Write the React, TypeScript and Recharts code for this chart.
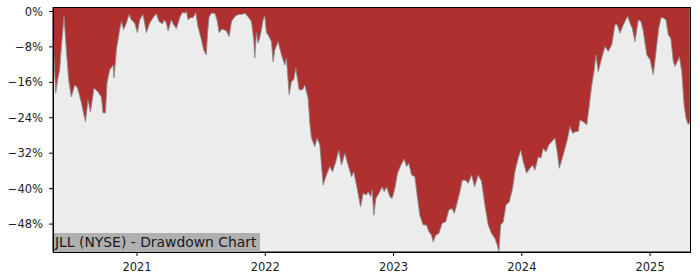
import React from 'react';
import { AreaChart, Area, XAxis, YAxis, CartesianGrid } from 'recharts';

// Decimal-year positions of the sampled points
const dates: number[] = [
  2020.346, 2020.366, 2020.381, 2020.397, 2020.410, 2020.431, 2020.449, 2020.467, 2020.488, 2020.514,
  2020.537, 2020.566, 2020.598, 2020.618, 2020.637, 2020.665, 2020.696, 2020.722, 2020.735, 2020.754,
  2020.766, 2020.787, 2020.813, 2020.821, 2020.839, 2020.865, 2020.878, 2020.896, 2020.917, 2020.938,
  2020.956, 2020.982, 2021.003, 2021.021, 2021.047, 2021.073, 2021.099, 2021.130, 2021.151, 2021.172,
  2021.198, 2021.211, 2021.229, 2021.242, 2021.268, 2021.286, 2021.307, 2021.333, 2021.354, 2021.372,
  2021.385, 2021.398, 2021.417, 2021.437, 2021.458, 2021.476, 2021.502, 2021.520, 2021.540, 2021.550,
  2021.562, 2021.580, 2021.606, 2021.624, 2021.640, 2021.658, 2021.676, 2021.697, 2021.718, 2021.736,
  2021.762, 2021.788, 2021.814, 2021.840, 2021.866, 2021.892, 2021.910, 2021.918, 2021.931, 2021.944,
  2021.957, 2021.970, 2021.983, 2021.996, 2022.009, 2022.022, 2022.048, 2022.061, 2022.074, 2022.100,
  2022.126, 2022.152, 2022.165, 2022.186, 2022.204, 2022.222, 2022.238, 2022.264, 2022.290, 2022.308,
  2022.334, 2022.347, 2022.360, 2022.386, 2022.404, 2022.425, 2022.451, 2022.477, 2022.503, 2022.524,
  2022.550, 2022.573, 2022.594, 2022.620, 2022.646, 2022.672, 2022.690, 2022.711, 2022.743, 2022.763,
  2022.789, 2022.802, 2022.821, 2022.833, 2022.846, 2022.862, 2022.885, 2022.911, 2022.927, 2022.945,
  2022.971, 2022.989, 2023.010, 2023.031, 2023.057, 2023.083, 2023.101, 2023.119, 2023.140, 2023.166,
  2023.187, 2023.205, 2023.231, 2023.257, 2023.275, 2023.296, 2023.309, 2023.328, 2023.353, 2023.379,
  2023.406, 2023.431, 2023.457, 2023.473, 2023.491, 2023.517, 2023.535, 2023.562, 2023.582, 2023.608,
  2023.632, 2023.660, 2023.686, 2023.712, 2023.738, 2023.764, 2023.790, 2023.808, 2023.821, 2023.835,
  2023.855, 2023.876, 2023.902, 2023.928, 2023.946, 2023.972, 2023.991, 2024.011, 2024.037, 2024.063,
  2024.084, 2024.102, 2024.128, 2024.149, 2024.167, 2024.188, 2024.211, 2024.232, 2024.258, 2024.276,
  2024.292, 2024.318, 2024.344, 2024.357, 2024.375, 2024.396, 2024.422, 2024.440, 2024.453, 2024.479,
  2024.506, 2024.526, 2024.545, 2024.562, 2024.578, 2024.596, 2024.623, 2024.648, 2024.674, 2024.701,
  2024.726, 2024.744, 2024.765, 2024.791, 2024.810, 2024.825, 2024.843, 2024.861, 2024.882, 2024.908,
  2024.929, 2024.947, 2024.974, 2025.000, 2025.025, 2025.046, 2025.067, 2025.085, 2025.103, 2025.124,
  2025.142, 2025.161, 2025.181, 2025.194, 2025.212, 2025.228, 2025.247, 2025.265, 2025.280, 2025.298,
  2025.310,
];

// Drawdown from running peak, in percent
const drawdown: number[] = [
  -6.4, -18.4, -15.4, -13.2, -8.0, -1.2, -8.7, -15.4, -19.3, -16.6,
  -17.3, -20.6, -24.9, -20.0, -22.7, -17.3, -18.2, -19.3, -22.9, -22.9,
  -16.1, -13.2, -12.1, -15.0, -8.7, -4.1, -2.3, -4.1, -2.6, -0.7,
  -1.9, -2.6, -4.8, -1.9, -0.7, -4.8, -2.6, -1.2, -0.5, -2.3,
  -2.8, -1.9, -2.6, -4.4, -1.9, -3.0, -3.9, -1.4, -0.2, -0.4,
  0, -1.9, -1.4, -1.4, -0.3, -3.5, -6.4, -8.7, -9.8, -4.8,
  -1.2, -0.4, -0.4, -1.9, -4.8, -4.1, -4.1, -4.4, -5.7, -2.3,
  -1.2, -0.7, -0.7, -0.4, -1.2, -2.3, -6.4, -10.5, -4.8, -7.1,
  -5.9, -4.1, -1.9, -1.0, -4.8, -5.3, -6.8, -11.4, -8.7, -6.8,
  -9.8, -12.1, -10.5, -18.8, -15.8, -15.4, -12.8, -17.7, -17.7, -16.6,
  -19.6, -25.2, -28.6, -30.5, -28.6, -30.1, -39.2, -36.9, -35.0, -36.2,
  -33.9, -31.3, -34.7, -32.0, -34.7, -37.3, -36.2, -39.2, -44.1, -41.1,
  -41.4, -40.7, -41.8, -40.3, -46.0, -42.2, -41.1, -39.6, -40.7, -39.6,
  -41.8, -42.2, -39.9, -36.5, -34.7, -33.3, -35.0, -34.3, -36.9, -37.3,
  -42.2, -46.0, -48.2, -48.2, -49.7, -50.5, -52.0, -50.5, -50.1, -47.8,
  -47.5, -44.8, -44.5, -45.6, -43.7, -40.7, -38.1, -38.1, -38.8, -36.9,
  -39.6, -36.9, -38.4, -43.7, -48.2, -50.1, -51.2, -52.7, -54.2, -48.2,
  -47.5, -43.7, -43.0, -39.9, -36.2, -33.1, -31.3, -33.9, -36.5, -35.4,
  -34.7, -35.8, -32.8, -33.1, -30.9, -31.7, -30.1, -29.4, -28.6, -31.7,
  -35.4, -32.8, -30.1, -28.6, -26.0, -27.5, -27.1, -27.1, -24.5, -24.9,
  -25.6, -21.1, -16.6, -13.6, -9.8, -13.6, -10.5, -7.9, -9.0, -7.5,
  -3.0, -3.0, -4.9, -3.0, -1.9, -1.1, -2.6, -3.8, -6.8, -1.9,
  -2.3, -4.5, -9.8, -10.9, -14.3, -9.0, -3.8, -1.4, -1.5, -1.9,
  -5.3, -6.0, -11.3, -12.4, -11.3, -10.2, -13.6, -21.1, -24.1, -25.6,
  -24.9,
];

const yearTicks: number[] = [2021, 2022, 2023, 2024, 2025];
const pctTicks: number[] = [0, -8, -16, -24, -32, -40, -48];
const xDomain: [number, number] = [2020.345, 2025.311];
const yDomain: [number, number] = [-54.3, 1.0];
const title = 'JLL (NYSE) - Drawdown Chart';

const data = dates.map((t, i) => ({ t, dd: drawdown[i] }));

const fmtPct = (v: number) => (v < 0 ? '\u2212' : '') + Math.abs(v) + '%';

export default function App() {
  const font = '"DejaVu Sans", sans-serif';
  return (
    <div style={{ position: 'absolute', left: 0, top: 0, width: 700, height: 280, background: '#fff' }}>
      <AreaChart
        width={700}
        height={280}
        data={data}
        margin={{ top: 7, right: 10, bottom: 0, left: 0 }}
        style={{ fontFamily: font }}
      >
        <CartesianGrid fill="#ececec" horizontal={false} vertical={false} />
        <XAxis
          type="number"
          dataKey="t"
          domain={xDomain}
          ticks={yearTicks}
          allowDataOverflow
          height={28}
          tickSize={4}
          tickMargin={7}
          tickFormatter={(v: number) => String(v)}
          tick={{ fill: '#222', fontSize: 11.5, fontFamily: font }}
          axisLine={{ stroke: '#000', strokeWidth: 1 }}
          tickLine={{ stroke: '#000' }}
        />
        <YAxis
          type="number"
          domain={yDomain}
          ticks={pctTicks}
          allowDataOverflow
          width={53}
          tickSize={4}
          tickMargin={6}
          tickFormatter={fmtPct}
          tick={{ fill: '#222', fontSize: 11.5, fontFamily: font }}
          axisLine={{ stroke: '#000', strokeWidth: 1 }}
          tickLine={{ stroke: '#000' }}
        />
        <Area
          type="linear"
          dataKey="dd"
          baseValue="dataMax"
          fill="#b03030"
          fillOpacity={1}
          stroke="#8a8a8a"
          strokeWidth={0.9}
          isAnimationActive={false}
          dot={false}
          activeDot={false}
        />
      </AreaChart>
      <div
        style={{
          position: 'absolute',
          left: 53,
          top: 233,
          height: 19,
          lineHeight: '19px',
          padding: '0 3px 0 2px',
          background: '#b0b0b0',
          color: '#1a1a1a',
          fontFamily: font,
          fontSize: 13.9,
          whiteSpace: 'nowrap',
        }}
      >
        {title}
      </div>
      <div
        style={{
          position: 'absolute',
          left: 53,
          top: 7,
          width: 638,
          height: 246,
          boxSizing: 'border-box',
          border: '1px solid #000',
          pointerEvents: 'none',
        }}
      />
    </div>
  );
}
